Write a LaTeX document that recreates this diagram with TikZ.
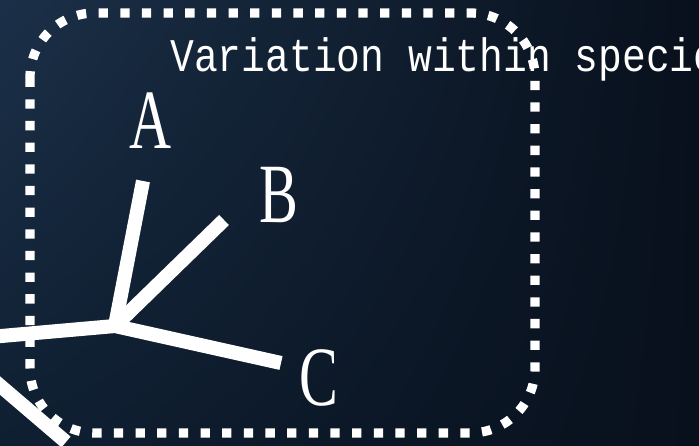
\documentclass[tikz,border=0pt]{standalone}
\usepackage{fontspec}
\usepackage{graphicx}
\usepackage{tikz}
\usetikzlibrary{shadings}
\newfontfamily\monofont{Liberation Mono}
\newfontfamily\leaffont{Liberation Serif}
\newcommand{\narrow}[1]{\scalebox{0.69}[1]{#1}}

\definecolor{bgLight}{RGB}{27,48,72}
\definecolor{bgMid}{RGB}{15,31,50}
\definecolor{bgDark}{RGB}{8,16,28}

\begin{document}
\begin{tikzpicture}[x=0.025cm, y=-0.025cm,
                taxon/.style={text=white, inner sep=0pt, font=\fontsize{60}{62}\selectfont\leaffont},
                heading/.style={text=white, inner sep=0pt, font=\fontsize{28.2}{30}\selectfont\monofont},
                branch/.style={draw=white, line width=10pt, line cap=butt, line join=miter},
                frame_box/.style={draw=white, line width=6.6pt, dash pattern=on 6.6pt off 8.8pt, rounded corners=46pt}]

            % Background
            \useasboundingbox (0,0) rectangle (699,446);
            \shade[upper left=bgLight, upper right=bgDark, lower left=bgMid, lower right=bgDark] (0,0) rectangle (699,446);

            % Dotted frame
            \draw[frame_box] (30,13) rectangle (535,433);

            \node[heading, anchor=base west] (title) at (170,72) {\scalebox{1}[1.18]{Variation within species}};

            % Tree
            \coordinate (hub) at (115,326);
            \coordinate (tipA) at (143,181);
            \coordinate (tipB) at (224,220);
            \coordinate (tipC) at (281,363);
            \coordinate (rootL) at (-10,337);
            \coordinate (rootD) at (-10,377);
            \coordinate (tipD) at (66,442);

            \node[taxon, anchor=base] (labA) at (151,149) {\narrow{A}};
            \node[taxon, anchor=base] (labB) at (279,223) {\narrow{B}};
            \node[taxon, anchor=base] (labC) at (319,406) {\narrow{C}};

            \draw[branch] (rootL) -- (hub) -- (tipC);
            \draw[branch] (hub) -- (tipA);
            \draw[branch] (hub) -- (tipB);
            \draw[branch] (rootD) -- (tipD);

        \end{tikzpicture}
\end{document}
